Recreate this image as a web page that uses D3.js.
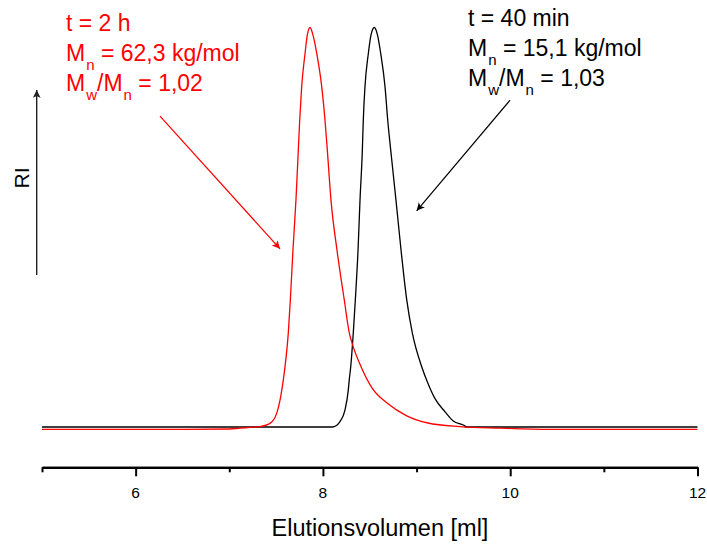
<!DOCTYPE html>
<html>
<head>
<meta charset="utf-8">
<script src="https://cdn.jsdelivr.net/npm/d3@7"></script>
<style>
  html, body { margin: 0; padding: 0; background: #fff; }
  svg { display: block; font-family: "Liberation Sans", Arial, Helvetica, sans-serif; }
</style>
</head>
<body>
<svg id="chart" width="707" height="545"></svg>
<script>
// GPC traces: elution volume (ml) vs. normalised RI signal
const elutionBlack = [5.00, 8.10, 8.14, 8.18, 8.236, 8.271, 8.281, 8.297, 8.324, 8.346, 8.375, 8.396, 8.421, 8.431, 8.449, 8.485, 8.513, 8.549, 8.583, 8.617, 8.663, 8.692, 8.724, 8.780, 8.834, 8.895, 8.955, 9.055, 9.122, 9.197, 9.304, 9.392, 9.499, 9.539, 12.00];
const riBlack      = [0, 0, 0.003, 0.013, 0.043, 0.093, 0.118, 0.151, 0.235, 0.318, 0.443, 0.568, 0.693, 0.768, 0.852, 0.935, 0.981, 1.0, 0.981, 0.935, 0.852, 0.768, 0.693, 0.568, 0.443, 0.318, 0.235, 0.151, 0.109, 0.071, 0.038, 0.015, 0.005, 0, 0];

const elutionRed = [5.00, 6.50, 7.00, 7.115, 7.22, 7.328, 7.435, 7.506, 7.549, 7.577, 7.595, 7.630, 7.652, 7.680, 7.712, 7.737, 7.752, 7.773, 7.809, 7.833, 7.862, 7.894, 7.934, 7.987, 8.022, 8.047, 8.086, 8.150, 8.228, 8.282, 8.318, 8.407, 8.524, 8.695, 8.895, 9.122, 9.464, 9.891, 10.425, 12.00];
const riRed      = [-0.006, -0.006, -0.005, -0.003, -0.001, 0.001, 0.009, 0.034, 0.076, 0.118, 0.151, 0.235, 0.318, 0.443, 0.568, 0.693, 0.768, 0.852, 0.935, 0.981, 1.0, 0.981, 0.935, 0.852, 0.768, 0.693, 0.568, 0.443, 0.318, 0.235, 0.205, 0.151, 0.098, 0.058, 0.028, 0.010, 0.001, -0.003, -0.006, -0.006];

const majorTicks = [6, 8, 10, 12];
const minorTicks = [5, 7, 9, 11];
const tickLabels = ["6", "8", "10", "12"];
const xTitle = "Elutionsvolumen [ml]";
const yTitle = "RI";

// annotation text: [main, subscript] runs per line
const labelRed = [
  [["t = 2 h", null]],
  [["M", "n"], [" = 62,3 kg/mol", null]],
  [["M", "w"], ["/M", "n"], [" = 1,02", null]]
];
const labelBlack = [
  [["t = 40 min", null]],
  [["M", "n"], [" = 15,1 kg/mol", null]],
  [["M", "w"], ["/M", "n"], [" = 1,03", null]]
];
// pointer arrows in data units: [x0, y0, x1, y1]
const arrowRed = [6.26, 0.778, 7.542, 0.446];
const arrowBlack = [9.998, 0.818, 9.001, 0.541];

const svg = d3.select("#chart");

const x = d3.scaleLinear().domain([5, 12]).range([42, 697.5]);
const y = d3.scaleLinear().domain([0, 1]).range([427, 27.5]);

// defs: arrowheads
const defs = svg.append("defs");
function marker(id, color, w, h) {
  defs.append("marker")
    .attr("id", id)
    .attr("viewBox", "0 0 10 10")
    .attr("refX", 10).attr("refY", 5)
    .attr("markerUnits", "userSpaceOnUse")
    .attr("markerWidth", w).attr("markerHeight", h)
    .attr("orient", "auto")
    .append("path")
    .attr("d", "M0,0 L10,5 L0,10 L2.5,5 Z")
    .attr("fill", color);
}
marker("headRed", "#ff0000", 11, 8);
marker("headBlack", "#000", 11, 8);
marker("headAxis", "#222", 11, 8);

// curves
const line = d3.line()
  .x(d => x(d[0]))
  .y(d => y(d[1]))
  .curve(d3.curveMonotoneX);

svg.append("path")
  .datum(d3.zip(elutionBlack, riBlack))
  .attr("d", line)
  .attr("fill", "none")
  .attr("stroke", "#000")
  .attr("stroke-width", 1.3);

svg.append("path")
  .datum(d3.zip(elutionRed, riRed))
  .attr("d", line)
  .attr("fill", "none")
  .attr("stroke", "#ff0000")
  .attr("stroke-width", 1.3);

// x axis: minor and major ticks drawn by d3.axisBottom, labels set separately
const axisY = 467.3;
const gMinor = svg.append("g")
  .attr("transform", `translate(0,${axisY})`)
  .call(d3.axisBottom(x).tickValues(minorTicks).tickSize(5).tickSizeOuter(0).tickFormat(""));
gMinor.selectAll(".tick text").remove();

const gMajor = svg.append("g")
  .attr("transform", `translate(0,${axisY})`)
  .call(d3.axisBottom(x).tickValues(majorTicks).tickSize(9).tickSizeOuter(0).tickFormat(""));
gMajor.selectAll(".tick text").remove();

[gMinor, gMajor].forEach(g => {
  g.select(".domain").attr("stroke", "#000").attr("stroke-width", 2.2);
  g.selectAll(".tick line").attr("stroke", "#000").attr("stroke-width", 2);
});

svg.append("g")
  .selectAll("text")
  .data(d3.zip(majorTicks, tickLabels))
  .join("text")
  .attr("x", d => x(d[0]))
  .attr("y", axisY + 30.5)
  .attr("text-anchor", "middle")
  .style("font-size", "15.5px")
  .attr("fill", "#000")
  .text(d => d[1]);

svg.append("text")
  .attr("x", 380).attr("y", 536)
  .attr("text-anchor", "middle")
  .style("font-size", "23.5px")
  .attr("fill", "#000")
  .text(xTitle);

// y indicator arrow and label
svg.append("line")
  .attr("x1", 36.7).attr("y1", 275)
  .attr("x2", 36.7).attr("y2", 90)
  .attr("stroke", "#222").attr("stroke-width", 1.4)
  .attr("marker-end", "url(#headAxis)");

svg.append("text")
  .attr("transform", "translate(29,178) rotate(-90)")
  .attr("text-anchor", "middle")
  .style("font-size", "21px")
  .attr("fill", "#000")
  .text(yTitle);

// annotations with subscripts
function annotate(lines, x0, baselines, color) {
  const g = svg.append("g").attr("fill", color);
  lines.forEach((runs, i) => {
    const t = g.append("text")
      .attr("x", x0).attr("y", baselines[i])
      .style("font-size", "23px");
    let shifted = false;
    runs.forEach(([main, sub]) => {
      t.append("tspan").attr("dy", shifted ? -9 : 0).text(main);
      shifted = false;
      if (sub) {
        t.append("tspan").attr("dy", 9).attr("dx", 1).style("font-size", "15px").text(sub);
        shifted = true;
      }
    });
  });
}
annotate(labelRed, 66, [31, 61, 91], "#ff0000");
annotate(labelBlack, 468, [26, 56, 86], "#000");

function pointer(a, color, head) {
  svg.append("line")
    .attr("x1", x(a[0])).attr("y1", y(a[1]))
    .attr("x2", x(a[2])).attr("y2", y(a[3]))
    .attr("stroke", color).attr("stroke-width", 1.2)
    .attr("marker-end", `url(#${head})`);
}
pointer(arrowRed, "#ff0000", "headRed");
pointer(arrowBlack, "#000", "headBlack");
</script>
</body>
</html>
